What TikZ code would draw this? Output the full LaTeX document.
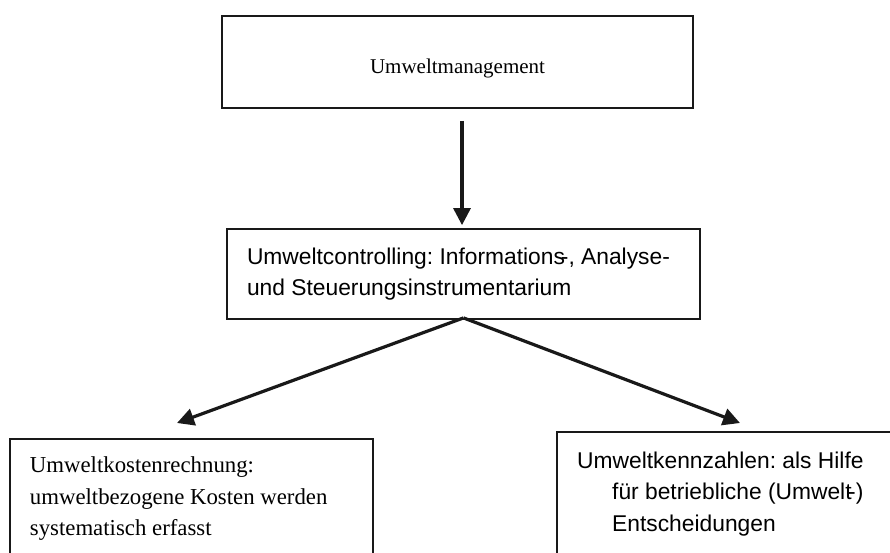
\documentclass[tikz,border=0pt]{standalone}
\usepackage{fontspec}
\setmainfont{Liberation Serif}
\newfontfamily\arialfont{Liberation Sans}
\usetikzlibrary{arrows.meta,calc}

\tikzset{
  box/.style={draw=black!90, line width=1.8pt, fill=white, rectangle, inner ysep=0pt},
  edge/.style={draw=black!90, line width=1.8pt},
  serifbig/.style={font=\frenchspacing\fontsize{22.8}{31.5}\selectfont},
  sansbig/.style={font=\frenchspacing\arialfont\fontsize{22.8}{31.5}\selectfont},
  flow/.style={draw=black!90, line width=3.2pt,
    -{Triangle[length=17pt,width=17pt]}},
}

\begin{document}
\begin{tikzpicture}[x=1pt,y=-1pt]
  \useasboundingbox (0,0) rectangle (890,552);
  \clip (0,0) rectangle (890,552);
  \fill[white] (0,0) rectangle (890,552);

  % management level
  \node[box, minimum width=471pt, minimum height=92pt,
        font=\fontsize{21}{25}\selectfont] (mgmt) at (457.5,62)
        {\raisebox{-6pt}[\height][\depth]{Umweltmanagement}};

  % controlling level
  \node[box, sansbig, minimum width=473pt, minimum height=90pt,
        text width=433pt, inner xsep=20pt, align=flush left] (ctrl) at (463.5,274)
        {Umweltcontrolling: Informations\kern-0.18em-, Analyse-\\und Steuerungsinstrumentarium};

  % instruments
  \node[box, serifbig, minimum width=363pt, minimum height=120pt,
        text width=323pt, inner xsep=20pt, align=flush left, anchor=north west] (kosten) at (9,438)
        {Umweltkostenrechnung:\\umweltbezogene Kosten werden\\systematisch erfasst};
  \node[sansbig, minimum width=400pt, minimum height=126pt, inner ysep=0pt,
        text width=360pt, inner xsep=20pt, align=flush left, anchor=north west] (kennz) at (557,432)
        {\raisebox{7pt}{Umweltkennzahlen: als Hilfe}\\\raisebox{7pt}{\hspace*{35pt}für betriebliche (Umwelt\kern-0.15em-)}\\\raisebox{7pt}{\hspace*{35pt}Entscheidungen}};
  % this box runs past the right and bottom edges
  \draw[edge] (kennz.south west) -- (kennz.north west) -- (kennz.north east);

  % connectors
  \coordinate (kostenIn) at ($(kosten.north west)+(168,-15)$);
  \coordinate (kennzIn) at ($(kennz.north west)+(183,-9)$);
  \draw[flow] ($(mgmt.south)+(4.5,12)$) -- ($(ctrl.north)+(-1.5,-3)$);
  \draw[flow] ($(ctrl.south)+(0,-2)$) -- (kostenIn);
  \draw[flow] ($(ctrl.south)+(0,-2)$) -- (kennzIn);
\end{tikzpicture}
\end{document}
